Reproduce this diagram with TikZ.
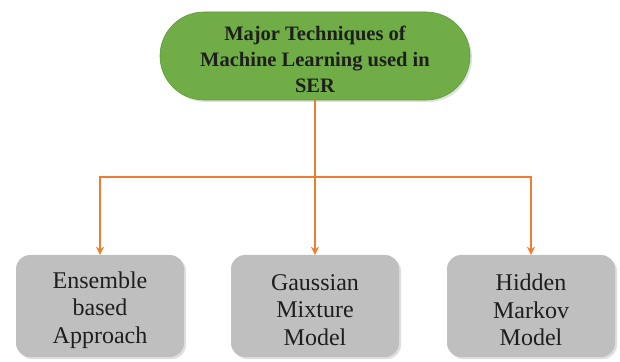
\documentclass[tikz,border=0pt]{standalone}
\usepackage{fontspec}
\setmainfont{Liberation Serif}
\usetikzlibrary{shapes.misc,shadows,arrows.meta}
\definecolor{pillgreen}{HTML}{70AD47}
\definecolor{pilledge}{HTML}{5E9A3A}
\definecolor{boxgrey}{HTML}{BFBFBF}
\definecolor{arrorange}{HTML}{ED7D31}
\definecolor{txtdark}{HTML}{1E1E1E}
\tikzset{
  pill/.style={rounded rectangle, fill=pillgreen, draw=pilledge, line width=0.6pt,
    minimum width=310pt, minimum height=88pt, inner sep=0pt,
    drop shadow={opacity=0.25, shadow xshift=2pt, shadow yshift=-2pt}},
  pilltext/.style={font=\fontsize{20.5pt}{26pt}\selectfont\bfseries, text=txtdark,
    align=center, inner sep=0pt},
  greybox/.style={rectangle, rounded corners=14pt, fill=boxgrey, draw=none,
    minimum width=168pt, minimum height=102pt, inner sep=0pt,
    drop shadow={opacity=0.25, shadow xshift=2pt, shadow yshift=-2pt}},
  boxtext/.style={font=\fontsize{24pt}{27.5pt}\selectfont, text=txtdark,
    align=center, inner sep=0pt},
  link/.style={draw=arrorange, line width=1.4pt},
  arr/.style={link, -{Stealth[length=8pt,width=8pt]}}
}
\begin{document}
\begin{tikzpicture}[x=1pt,y=1pt]
\useasboundingbox (0,0) rectangle (620,361);
\node[pill] (top) at (315,305) {};
\node[pilltext] (toptext) at (315,302) {Major Techniques of\\Machine Learning used in\\SER};
\node[greybox] (b1) at (100,55) {};
\node[greybox] (b2) at (315,55) {};
\node[greybox] (b3) at (531,55) {};
\node[boxtext] (t1) at (100,51) {Ensemble\\based\\Approach};
\node[boxtext] (t2) at (315,51) {Gaussian\\Mixture\\Model};
\node[boxtext] (t3) at (531,51) {Hidden\\Markov\\Model};
\coordinate (bar) at (315,184);
\draw[link] (top.south) -- (bar);
\draw[arr] (bar) -- (bar -| b1.north) -- (b1.north);
\draw[arr] (bar) -- (bar -| b3.north) -- (b3.north);
\draw[arr] (bar) -- (b2.north);
\end{tikzpicture}
\end{document}
